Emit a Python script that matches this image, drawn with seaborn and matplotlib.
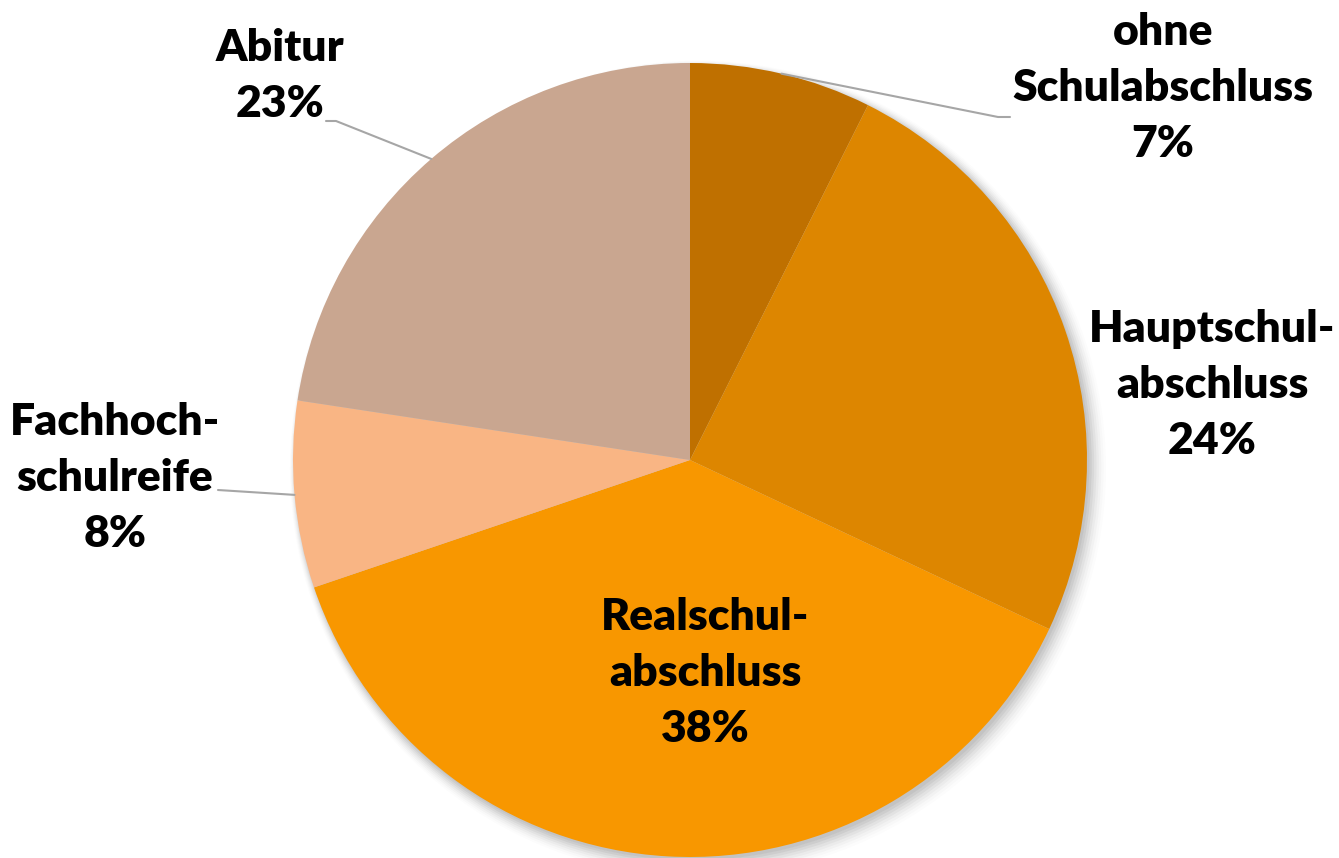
import matplotlib
matplotlib.use("Agg")
import matplotlib.pyplot as plt
import seaborn as sns
import numpy as np
from matplotlib.patches import Circle

categories = ["ohne\nSchulabschluss", "Hauptschul-\nabschluss", "Realschul-\nabschluss",
              "Fachhoch-\nschulreife", "Abitur"]
values = [7.4, 24.6, 37.8, 7.6, 22.6]
pct_labels = ["7%", "24%", "38%", "8%", "23%"]
colors = ["#BF7000", "#DD8600", "#F89700", "#F9B584", "#C9A690"]

sns.set_theme(style="white")
plt.rcParams['font.family'] = ['Lato', 'DejaVu Sans']

W, H = 1339, 858
fig = plt.figure(figsize=(W / 100, H / 100), dpi=100)
cx, cy, R = 690, 460, 397
ax = fig.add_axes([(cx - R) / W, (H - cy - R) / H, 2 * R / W, 2 * R / H])
ax.axis("off")

# soft shadow
for i, a in enumerate(np.linspace(0.05, 0.012, 8)):
    ax.add_patch(Circle((0.006 + 0.002 * i, -0.008 - 0.002 * i), 1.0 + 0.004 * i,
                        color="black", alpha=a, lw=0, zorder=0, clip_on=False))

wedges, _ = ax.pie(values, colors=colors, startangle=90, counterclock=False,
                   radius=1.0, wedgeprops=dict(linewidth=0))
for w in wedges:
    w.set_zorder(2)
    w.set_clip_on(False)
ax.set_xlim(-1, 1)
ax.set_ylim(-1, 1)
ax.set_aspect("equal")

def px(x, y):
    return ((x - cx) / R, (cy - y) / R)

label_pos = [px(1163, 88), px(1212, 385), px(705, 673), px(115, 478), px(280, 76)]
for cat, pl, (lx, ly) in zip(categories, pct_labels, label_pos):
    ax.text(lx, ly, f"{cat}\n{pl}", ha="center", va="center", fontsize=32,
            fontweight="heavy", color="black", linespacing=1.47, zorder=5, clip_on=False)

# leader lines (from wedge mid-angle edge to label)
cum = np.cumsum([0] + values)
mids = [90 - 360 * (cum[i] + values[i] / 2) / 100 for i in range(len(values))]
leaders = {
    0: [px(998, 117), px(1010, 117)],
    3: [px(218, 490)],
    4: [px(336, 121), px(326, 121)],
}
for idx, pts in leaders.items():
    ang = np.deg2rad(mids[idx])
    xs = [np.cos(ang)] + [p[0] for p in pts]
    ys = [np.sin(ang)] + [p[1] for p in pts]
    ax.plot(xs, ys, color="#A6A6A6", lw=1.5, zorder=3, clip_on=False)

fig.savefig("out.png", dpi=100, facecolor="white")
